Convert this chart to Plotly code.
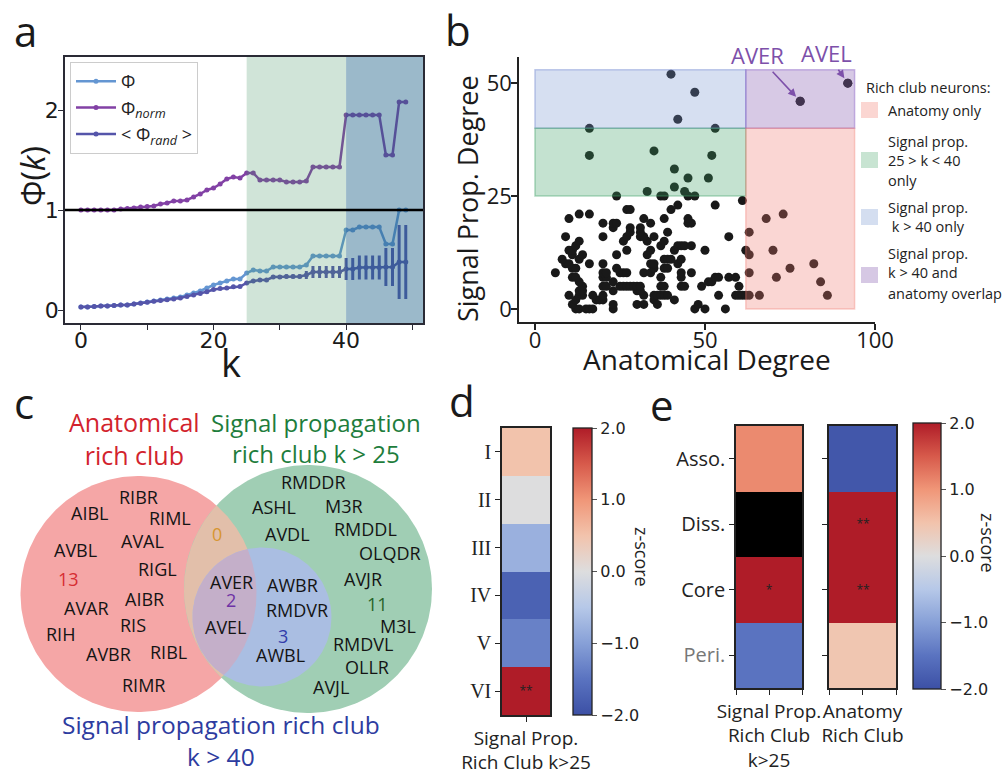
import numpy as np
import plotly.graph_objects as go

W, H = 1004, 781
SANS = "Open Sans"
DJ = "DejaVu Sans"
SERIF = "Liberation Serif"

# ---------------- data ----------------
# panel a
k_vals = list(range(50))
phi = [0.03, 0.03, 0.035, 0.04, 0.04, 0.045, 0.05, 0.05, 0.06, 0.07,
       0.08, 0.09, 0.10, 0.11, 0.12, 0.13, 0.15, 0.17, 0.19, 0.22,
       0.25, 0.27, 0.29, 0.31, 0.31, 0.37, 0.40, 0.39, 0.39, 0.43,
       0.43, 0.43, 0.43, 0.43, 0.45, 0.54, 0.54, 0.54, 0.54, 0.54,
       0.80, 0.80, 0.83, 0.83, 0.83, 0.83, 0.66, 0.66, 1.00, 1.00]
phi_norm = [1.00, 1.00, 1.00, 1.00, 1.00, 1.00, 1.01, 1.015, 1.02, 1.03,
            1.035, 1.04, 1.06, 1.07, 1.09, 1.09, 1.10, 1.13, 1.16, 1.20,
            1.22, 1.26, 1.31, 1.33, 1.32, 1.37, 1.37, 1.30, 1.30, 1.30,
            1.30, 1.28, 1.28, 1.28, 1.29, 1.43, 1.43, 1.43, 1.43, 1.43,
            1.95, 1.95, 1.95, 1.95, 1.95, 1.95, 1.55, 1.55, 2.08, 2.08]
phi_rand = [0.03, 0.03, 0.035, 0.04, 0.04, 0.045, 0.05, 0.05, 0.06, 0.068,
            0.077, 0.087, 0.094, 0.103, 0.11, 0.12, 0.136, 0.15, 0.164, 0.183,
            0.205, 0.214, 0.221, 0.233, 0.235, 0.27, 0.29, 0.30, 0.30, 0.33,
            0.33, 0.336, 0.336, 0.336, 0.35, 0.38, 0.38, 0.38, 0.38, 0.38,
            0.41, 0.41, 0.425, 0.425, 0.425, 0.425, 0.43, 0.43, 0.48, 0.48]
phi_rand_err = [0, 0, 0, 0, 0, 0, 0, 0, 0, 0,
                0, 0, 0, 0, 0, 0, 0, 0, 0, 0,
                0, 0, 0, 0, 0, 0, 0, 0, 0, 0.02,
                0.02, 0.02, 0.02, 0.02, 0.04, 0.06, 0.06, 0.06, 0.06, 0.06,
                0.11, 0.11, 0.12, 0.12, 0.12, 0.12, 0.19, 0.19, 0.37, 0.37]
k_regions = [25, 40]

# panel b
anat_deg = [12, 13, 15, 16, 17, 23, 47, 50, 56,
            11, 23, 30, 32, 36, 48,
            12, 18, 19, 20, 35, 41,
            10, 13, 14, 17, 20, 32, 35, 36, 37, 38, 39, 54, 59, 60, 61, 62, 63, 66, 86,
            13, 14, 23, 30, 31,
            14, 20, 21, 25, 26, 27, 28, 29, 30, 31, 37, 38, 43, 44, 49, 60,
            13, 23, 51, 52, 84,
            11, 12, 20, 21, 37, 43, 53, 54, 57, 59, 71,
            6, 20, 21, 25, 26, 27, 32, 34, 43, 46, 63,
            11, 12, 24, 35, 38, 39, 75,
            9, 10, 16, 20, 34, 35, 42, 82,
            8, 13, 38, 39, 40, 43,
            11, 14, 24, 33, 63,
            10, 11, 27, 34, 41, 50, 62, 70,
            12, 37, 42, 43, 44, 46,
            13, 26, 33, 38,
            9, 20, 27, 31, 32, 35, 57,
            28, 31, 39, 63,
            23, 28, 31,
            20, 23, 24, 34, 45, 46,
            10, 32, 38, 45, 68,
            13, 16, 73,
            27, 28, 40,
            42, 53,
            61,
            24, 37, 38, 45, 47,
            33, 44,
            41,
            45, 51,
            41,
            16, 52,
            35,
            16, 53,
            42,
            78,
            47,
            92,
            40]
sig_deg = [0, 0, 0, 0, 0, 0, 0, 0, 0,
           1, 1, 1, 1, 1, 1,
           2, 2, 2, 2, 2, 2,
           3, 3, 3, 3, 3, 3, 3, 3, 3, 3, 3, 3, 3, 3, 3, 3, 3, 3, 3,
           4, 4, 4, 4, 4,
           5, 5, 5, 5, 5, 5, 5, 5, 5, 5, 5, 5, 5, 5, 5, 5,
           6, 6, 6, 6, 6,
           7, 7, 7, 7, 7, 7, 7, 7, 7, 7, 7,
           8, 8, 8, 8, 8, 8, 8, 8, 8, 8, 8,
           9, 9, 9, 9, 9, 9, 9,
           10, 10, 10, 10, 10, 10, 10, 10,
           11, 11, 11, 11, 11, 11,
           12, 12, 12, 12, 12,
           13, 13, 13, 13, 13, 13, 13, 13,
           14, 14, 14, 14, 14, 14,
           15, 15, 15, 15,
           16, 16, 16, 16, 16, 16, 16,
           17, 17, 17, 17,
           18, 18, 18,
           19, 19, 19, 19, 19, 19,
           20, 20, 20, 20, 20,
           21, 21, 21,
           22, 22, 22,
           23, 23,
           24,
           25, 25, 25, 25, 25,
           26, 26,
           27,
           29, 29,
           31,
           34, 34,
           35,
           40, 40,
           42,
           46,
           48,
           50,
           52]
assert len(anat_deg) == len(sig_deg)
hub_names = ["AVER", "AVEL"]
hub_anat = [78, 92]
hub_sig = [46, 50]
anat_thr = 62
sig_thr = [25, 40]
deg_box = [0, 94, 53]   # x min, x max, y max of the shaded zones

# panel c
anat_only = ["RIBR", "AIBL", "RIML", "AVBL", "AVAL", "RIGL", "AVAR", "AIBR",
             "RIS", "RIH", "AVBR", "RIBL", "RIMR"]
overlap_k40 = ["AVER", "AVEL"]
sig40_only = ["AWBR", "RMDVR", "AWBL"]
sig25_only = ["RMDDR", "ASHL", "M3R", "AVDL", "RMDDL", "OLQDR", "AVJR", "M3L",
              "RMDVL", "OLLR", "AVJL"]
venn_counts = [13, 0, 2, 3, 11]

# panel d
d_rows = ["I", "II", "III", "IV", "V", "VI"]
d_z = [0.5, 0.0, -0.8, -1.75, -1.35, 2.2]
d_sig = ["", "", "", "", "", "**"]
d_col = "Signal Prop.<br>Rich Club k>25"

# panel e
e_rows = ["Asso.", "Diss.", "Core", "Peri."]
e_sp = [1.1, None, 2.3, -1.5]
e_sp_sig = ["", "", "*", ""]
e_an = [-1.9, 2.5, 2.5, 0.45]
e_an_sig = ["", "**", "**", ""]
e_cols = ["Signal Prop.<br>Rich Club<br>k>25", "Anatomy<br>Rich Club"]

# ---------------- helpers ----------------
def dom_x(a, b):
    return [a / W, b / W]

def dom_y(top, bot):
    return [1 - bot / H, 1 - top / H]

def px(x):
    return x / W

def py(y):
    return 1 - y / H

COOLWARM = [[0.0, "rgb(60,80,165)"], [0.125, "rgb(90,115,192)"],
            [0.25, "rgb(135,160,215)"], [0.375, "rgb(182,200,232)"],
            [0.5, "rgb(221,221,222)"], [0.625, "rgb(242,195,172)"],
            [0.75, "rgb(240,150,120)"], [0.875, "rgb(215,90,75)"],
            [1.0, "rgb(175,28,40)"]]

fig = go.Figure()
ann = []
shapes = []

def ptext(x, y, t, size, color="#1a1a1a", family=SANS, angle=0, xanchor="center"):
    ann.append(dict(x=px(x), y=py(y), xref="paper", yref="paper", text=t, showarrow=False,
                    xanchor=xanchor, yanchor="middle", textangle=angle,
                    font=dict(family=family, size=size, color=color)))

# ---------------- panel a ----------------
C_PHI = "rgb(100,150,210)"
C_NORM = "rgb(130,65,165)"
C_RAND = "rgb(85,85,170)"
fig.add_trace(go.Scatter(x=k_vals, y=phi, mode="lines+markers", name="Φ",
                         line=dict(color=C_PHI, width=2.5), marker=dict(size=5),
                         xaxis="x", yaxis="y"))
fig.add_trace(go.Scatter(x=k_vals, y=phi_norm, mode="lines+markers",
                         name="Φ<sub><i>norm</i></sub>",
                         line=dict(color=C_NORM, width=2.5), marker=dict(size=5),
                         xaxis="x", yaxis="y"))
fig.add_trace(go.Scatter(x=k_vals, y=phi_rand, mode="lines+markers",
                         name="&lt; Φ<sub><i>rand</i></sub> &gt;",
                         line=dict(color=C_RAND, width=2.5), marker=dict(size=5),
                         error_y=dict(type="data", array=phi_rand_err, width=0,
                                      thickness=3, color=C_RAND),
                         xaxis="x", yaxis="y"))
A_XR = [-2.4, 51.6]
A_YR = [-0.13, 2.53]
shapes.append(dict(type="rect", xref="x", yref="y domain", x0=k_regions[0], x1=k_regions[1],
                   y0=0, y1=1, fillcolor="rgba(67,147,99,0.25)", line=dict(width=0),
                   layer="above"))
shapes.append(dict(type="rect", xref="x", yref="y domain", x0=k_regions[1], x1=A_XR[1],
                   y0=0, y1=1, fillcolor="rgba(33,99,137,0.45)", line=dict(width=0),
                   layer="above"))
shapes.append(dict(type="line", xref="x domain", yref="y", x0=0, x1=1, y0=1, y1=1,
                   line=dict(color="black", width=2.5), layer="above"))

# ---------------- panel b ----------------
fig.add_trace(go.Scatter(x=anat_deg + hub_anat, y=sig_deg + hub_sig, mode="markers",
                         marker=dict(size=9, color="rgb(25,25,25)"),
                         showlegend=False, xaxis="x2", yaxis="y2", hoverinfo="skip"))
x0b, x1b, ytop = deg_box
rects_b = [
    (x0b, anat_thr, sig_thr[1], ytop, "rgba(120,150,210,0.3)", "rgba(120,140,210,0.45)"),
    (x0b, anat_thr, sig_thr[0], sig_thr[1], "rgba(60,160,100,0.3)", "rgba(60,160,100,0.4)"),
    (anat_thr, x1b, sig_thr[1], ytop, "rgba(140,100,180,0.35)", "rgba(140,100,200,0.45)"),
    (anat_thr, x1b, 0, sig_thr[1], "rgba(240,120,110,0.3)", "rgba(240,120,110,0.35)"),
]
for xa, xb, ya, yb, fc, lc in rects_b:
    shapes.append(dict(type="rect", xref="x2", yref="y2", x0=xa, x1=xb, y0=ya, y1=yb,
                       fillcolor=fc, line=dict(color=lc, width=1.5), layer="above"))
C_PURP = "rgb(125,80,170)"
for name, xv, yv, ax, ay in zip(hub_names, hub_anat, hub_sig, [-43, -21], [-46, -30]):
    ann.append(dict(x=xv, y=yv, xref="x2", yref="y2", text=name, showarrow=True,
                    ax=ax, ay=ay, arrowhead=2, arrowsize=1, arrowwidth=1.6,
                    arrowcolor=C_PURP, standoff=6, startstandoff=0,
                    font=dict(family=SANS, size=22, color=C_PURP)))

# legend of panel b
ptext(864, 87, "Rich club neurons:", 14.5, color="#222", xanchor="left")
leg_items = [
    (110, "rgb(251,214,210)", ["Anatomy only"], [110]),
    (160, "rgb(200,228,210)", ["Signal prop.", "25 > k < 40", "only"], [141, 160, 180]),
    (217, "rgb(212,222,240)", ["Signal prop.", " k > 40 only"], [207, 226]),
    (275, "rgb(214,200,228)", ["Signal prop.", "k > 40 and", "anatomy overlap"], [254, 273, 293]),
]
for yc, col, lines, ys in leg_items:
    shapes.append(dict(type="rect", xref="paper", yref="paper", x0=px(861), x1=px(878),
                       y0=py(yc + 8), y1=py(yc - 8), fillcolor=col, line=dict(width=0)))
    for t, yy in zip(lines, ys):
        ptext(886, yy, t, 14.5, color="#222", xanchor="left")

# ---------------- panel c (Venn) ----------------
circ_red = (138.5, 594.0, 118.0)
circ_green = (308.0, 589.0, 124.0)
circ_blue = (262.0, 617.0, 69.5)

def circle_pts(c, n=240):
    t = np.linspace(0, 2 * np.pi, n)
    return c[0] + c[2] * np.cos(t), c[1] + c[2] * np.sin(t)

def lens_pts(c1, c2, n=720):
    t = np.linspace(0, 2 * np.pi, n, endpoint=False)
    pts = []
    for a, b in ((c1, c2), (c2, c1)):
        xs = a[0] + a[2] * np.cos(t)
        ys = a[1] + a[2] * np.sin(t)
        m = (xs - b[0]) ** 2 + (ys - b[1]) ** 2 <= b[2] ** 2
        pts.append(np.column_stack([xs[m], ys[m]]))
    p = np.vstack(pts)
    cx, cy = p.mean(axis=0)
    order = np.argsort(np.arctan2(p[:, 1] - cy, p[:, 0] - cx))
    p = p[order]
    return list(p[:, 0]) + [p[0, 0]], list(p[:, 1]) + [p[0, 1]]

venn_fills = [
    (circle_pts(circ_red), "rgb(245,166,166)"),
    (circle_pts(circ_green), "rgb(160,206,180)"),
    (lens_pts(circ_red, circ_green), "rgb(226,191,170)"),
    (circle_pts(circ_blue), "rgb(170,190,226)"),
    (lens_pts(circ_red, circ_blue), "rgb(196,175,201)"),
]
for (xs, ys), col in venn_fills:
    fig.add_trace(go.Scatter(x=list(xs), y=list(ys), mode="lines", fill="toself",
                             fillcolor=col, line=dict(width=0, color=col),
                             hoverinfo="skip", showlegend=False, xaxis="x3", yaxis="y3"))

def vtext(x, y, t, size=18, color="#141414"):
    ann.append(dict(x=x, y=y, xref="x3", yref="y3", text=t, showarrow=False,
                    xanchor="center", yanchor="middle",
                    font=dict(family=SANS, size=size, color=color)))

anat_pos = [(138, 497), (89, 513), (170, 518), (75, 550), (142, 541), (157, 569),
            (86, 608), (144, 599), (133, 625), (60, 634), (108, 654), (168, 652), (143, 685)]
for n, (x, y) in zip(anat_only, anat_pos):
    vtext(x, y, n)
for n, (x, y) in zip(overlap_k40, [(231, 582), (226, 627)]):
    vtext(x, y, n)
for n, (x, y) in zip(sig40_only, [(292, 585), (297, 610), (280, 655)]):
    vtext(x, y, n)
sig25_pos = [(313, 482), (274, 507), (344, 506), (287, 534), (365, 529), (390, 553),
             (363, 579), (398, 626), (363, 644), (367, 667), (331, 687)]
for n, (x, y) in zip(sig25_only, sig25_pos):
    vtext(x, y, n)
count_pos = [(68, 579), (217, 534), (231, 600), (283, 636), (377, 604)]
count_col = ["rgb(215,45,50)", "rgb(215,150,50)", "rgb(110,50,165)",
             "rgb(50,60,170)", "rgb(40,100,40)"]
for c, (x, y), col in zip(venn_counts, count_pos, count_col):
    vtext(x, y, str(c), color=col)
vtext(134, 438, "Anatomical<br>rich club", size=25, color="rgb(210,35,45)")
vtext(316, 438, "Signal propagation<br>rich club k > 25", size=24, color="rgb(30,125,60)")
vtext(221, 740, "Signal propagation rich club<br>k > 40", size=24.5, color="rgb(45,60,160)")

# ---------------- panel d ----------------
cb_common = dict(yanchor="middle", xanchor="left", thicknessmode="pixels", lenmode="pixels",
                 outlinewidth=1.3, outlinecolor="#222", ticks="outside", ticklen=5,
                 tickwidth=1.3, tickcolor="#555", tickvals=[-2, -1, 0, 1, 2],
                 ticktext=["−2.0", "−1.0", "0.0", "1.0", "2.0"],
                 tickfont=dict(family=DJ, size=16, color="#222"), xpad=0, ypad=0)
fig.add_trace(go.Heatmap(z=[[v] for v in d_z], x=[0], y=d_rows, colorscale=COOLWARM,
                         zmin=-2, zmax=2, text=[[s] for s in d_sig], texttemplate="%{text}",
                         textfont=dict(size=12, color="#222"), hoverinfo="skip",
                         xaxis="x4", yaxis="y4",
                         colorbar=dict(x=px(573), y=py(571.5), thickness=19, len=287,
                                       **cb_common)))
ptext(642, 557, "z-score", 18, color="#222", angle=90)

# ---------------- panel e ----------------
e_bad = [[1] if v is None else [None] for v in e_sp]
fig.add_trace(go.Heatmap(z=[[v] for v in e_sp], x=[0], y=e_rows, colorscale=COOLWARM,
                         zmin=-2, zmax=2, showscale=False, text=[[s] for s in e_sp_sig],
                         texttemplate="%{text}", textfont=dict(size=12, color="#222"),
                         hoverinfo="skip", xaxis="x5", yaxis="y5"))
fig.add_trace(go.Heatmap(z=e_bad, x=[0], y=e_rows, colorscale=[[0, "black"], [1, "black"]],
                         showscale=False, hoverinfo="skip", xaxis="x5", yaxis="y5"))
fig.add_trace(go.Heatmap(z=[[v] for v in e_an], x=[0], y=e_rows, colorscale=COOLWARM,
                         zmin=-2, zmax=2, text=[[s] for s in e_an_sig],
                         texttemplate="%{text}", textfont=dict(size=12, color="#222"),
                         hoverinfo="skip", xaxis="x6", yaxis="y6",
                         colorbar=dict(x=px(913), y=py(556), thickness=28, len=266,
                                       **cb_common)))
ptext(988, 543, "z-score", 18, color="#222", angle=90)

# ---------------- panel letters ----------------
for t, x, y in [("a", 25, 31), ("b", 458, 30), ("c", 24, 402), ("d", 462, 400), ("e", 662, 404)]:
    ptext(x, y, t, 42)

# axis titles (a, b)
ptext(231, 362, "k", 38)
ptext(32, 176, "Φ(<i>k</i>)", 32, angle=-90)
ptext(707, 359, "Anatomical Degree", 28)
ptext(467, 199, "Signal Prop. Degree", 27, angle=-90)

# ---------------- layout ----------------
box_ax = dict(showline=True, mirror=True, linecolor="#2a2a35", linewidth=1.5, ticks="outside",
              ticklen=5, tickwidth=1.2, tickcolor="#2a2a35", showgrid=False, zeroline=False,
              automargin=False, tickfont=dict(family=DJ, size=22, color="#1a1a1a"))
open_ax = dict(showline=True, mirror=False, linecolor="#222", linewidth=1.5, ticks="outside",
               ticklen=6, tickwidth=1.5, tickcolor="#222", showgrid=False, zeroline=False,
               automargin=False, tickfont=dict(family=SANS, size=22, color="#1a1a1a"))
hm_x = dict(showline=True, mirror=True, linecolor="#222", linewidth=1.5, ticks="outside",
            ticklen=5, tickwidth=1.3, tickcolor="#222", showgrid=False, zeroline=False,
            automargin=False, range=[-0.5, 0.5],
            tickfont=dict(family=SANS, size=19, color="#222"))
hm_y = dict(showline=True, mirror=True, linecolor="#222", linewidth=1.5, ticks="outside",
            ticklen=5, tickwidth=1.3, tickcolor="#222", showgrid=False, zeroline=False,
            automargin=False, autorange="reversed", type="category")
hidden = dict(visible=False, showgrid=False, zeroline=False, automargin=False)

e_tick = ["<span style='color:#777'>%s</span>" % r if r == "Peri." else r for r in e_rows]

fig.update_layout(
    width=W, height=H, margin=dict(l=0, r=0, t=0, b=0, pad=0, autoexpand=False),
    paper_bgcolor="white", plot_bgcolor="white", showlegend=True,
    legend=dict(x=px(70), y=py(62), xanchor="left", yanchor="top", bgcolor="white",
                bordercolor="#cccccc", borderwidth=1, font=dict(family=SANS, size=18, color="#222"),
                itemwidth=40, tracegroupgap=4),
    xaxis=dict(domain=dom_x(65, 423), range=A_XR, tickvals=[0, 10, 20, 30, 40, 50],
               ticktext=["0", "", "20", "", "40", ""], anchor="y", ticklabelstandoff=-8,
               **box_ax),
    yaxis=dict(domain=dom_y(57, 323), range=A_YR, tickvals=[0, 1, 2], anchor="x",
               ticklabelstandoff=-5, **box_ax),
    xaxis2=dict(domain=dom_x(519, 875), range=[-4.7, 100], tickvals=[0, 50, 100],
                anchor="y2", ticklabelstandoff=-8, **open_ax),
    yaxis2=dict(domain=dom_y(57, 322), range=[-2.9, 55.8], tickvals=[0, 25, 50],
                anchor="x2", ticklabelstandoff=-5, **open_ax),
    xaxis3=dict(domain=dom_x(0, 450), range=[0, 450], anchor="y3", **hidden),
    yaxis3=dict(domain=dom_y(380, 781), range=[781, 380], anchor="x3", **hidden),
    xaxis4=dict(domain=dom_x(502, 550), tickvals=[0], ticktext=[d_col], anchor="y4", **hm_x),
    yaxis4=dict(domain=dom_y(428, 715), anchor="x4",
                tickfont=dict(family=SERIF, size=20, color="#222"), **hm_y),
    xaxis5=dict(domain=dom_x(736, 802), tickvals=[-0.5, 0, 0.5], ticktext=["", e_cols[0], ""],
                anchor="y5", **hm_x),
    yaxis5=dict(domain=dom_y(426, 688), anchor="x5", tickvals=e_rows, ticktext=e_tick,
                tickfont=dict(family=SANS, size=20, color="#222"), **hm_y),
    xaxis6=dict(domain=dom_x(829, 896), tickvals=[-0.5, 0, 0.5], ticktext=["", e_cols[1], ""],
                anchor="y6", **hm_x),
    yaxis6=dict(domain=dom_y(426, 688), anchor="x6", showticklabels=False, **hm_y),
    shapes=shapes, annotations=ann,
)

fig.write_html("out.html")
